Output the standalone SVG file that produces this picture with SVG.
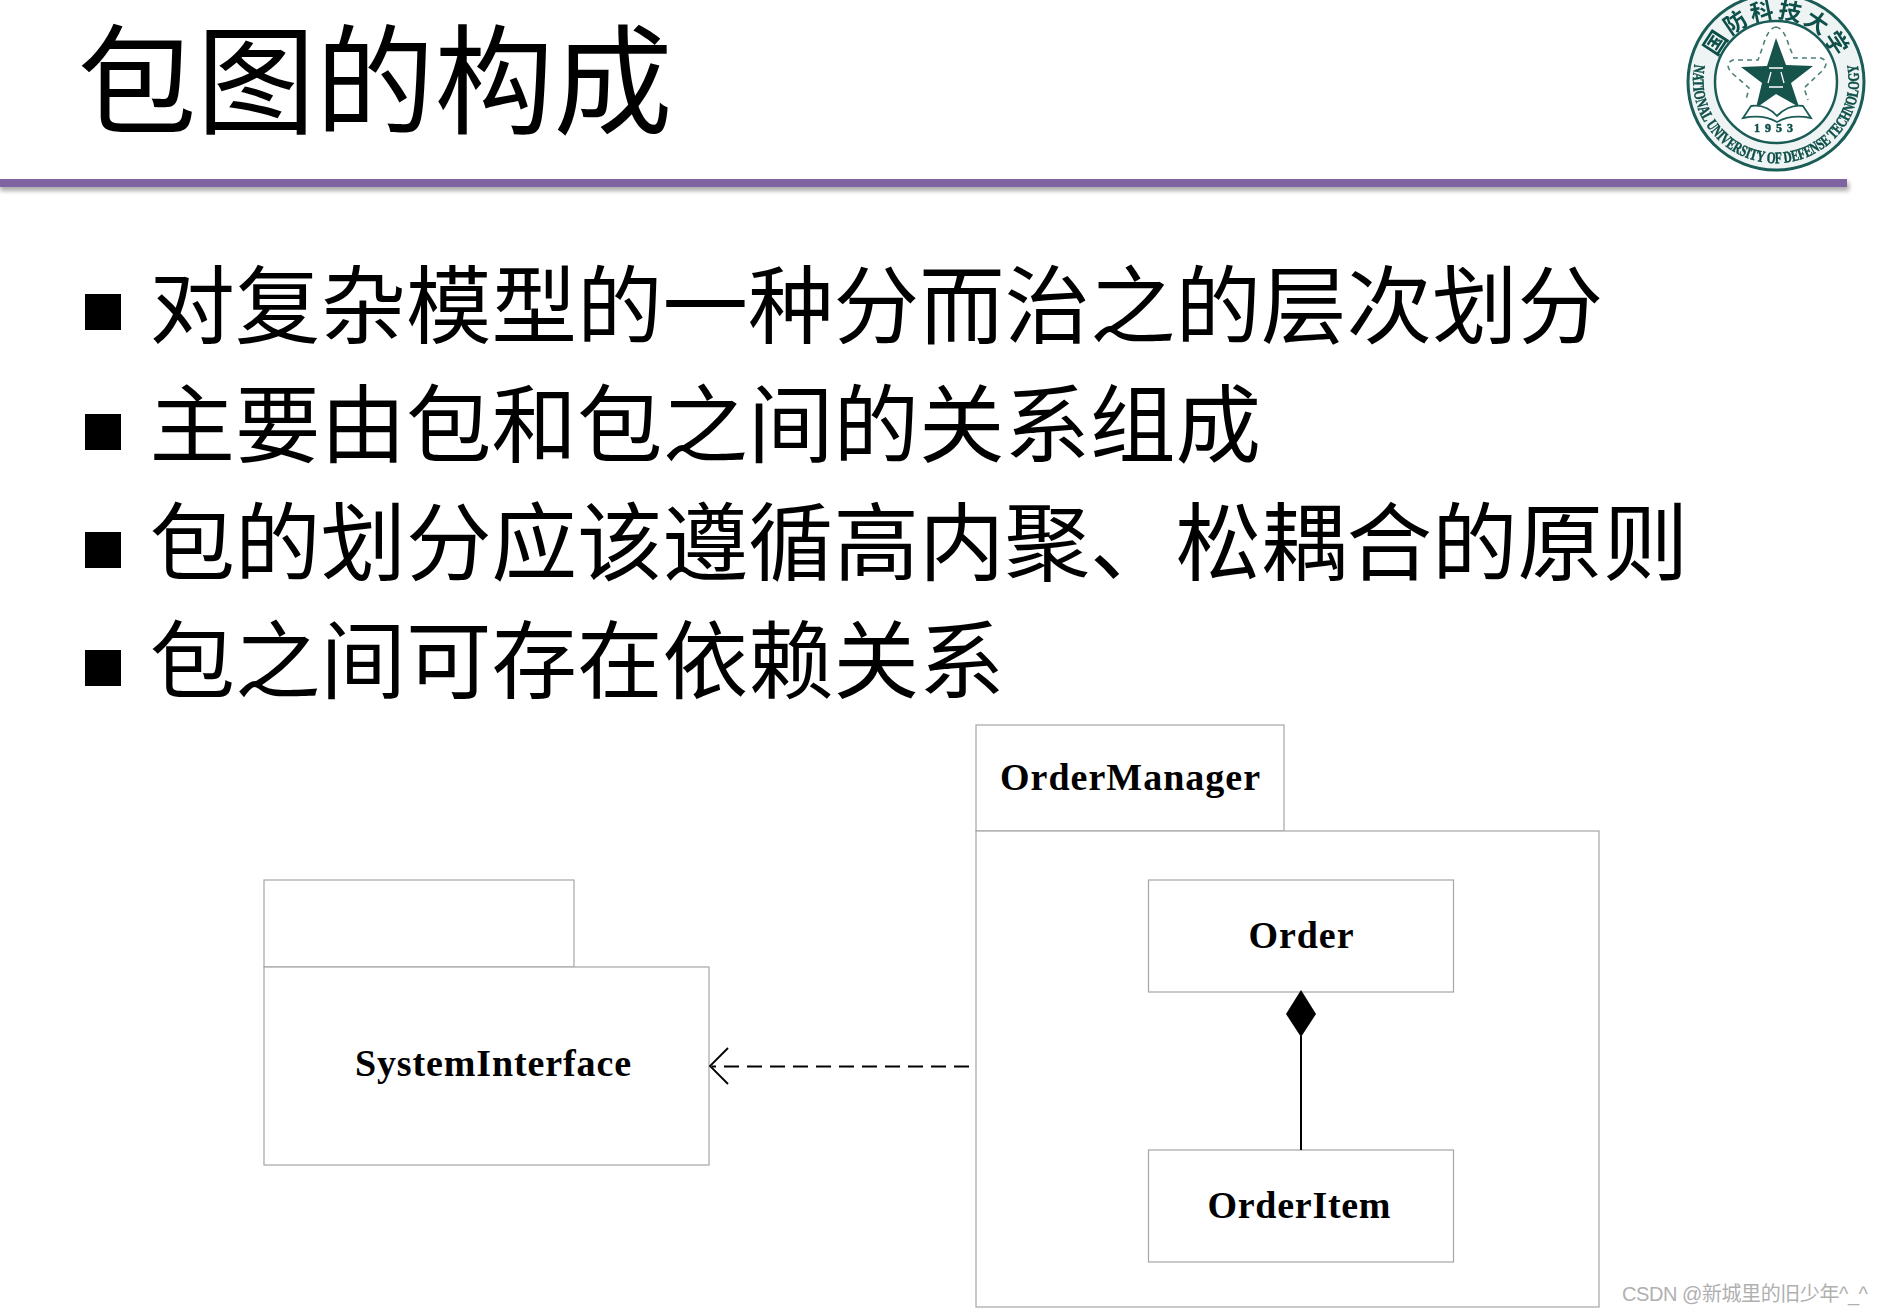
<svg xmlns="http://www.w3.org/2000/svg" width="1882" height="1314" viewBox="0 0 1882 1314">
<style>
.cjk{font-family:"Noto Sans CJK SC","Noto Sans",sans-serif;fill:#000}
.t{font-size:119px}
.b{font-size:85.5px}
.box{fill:#fff;stroke:#a6a6a6;stroke-width:1.2}
.lbl{font-family:"Liberation Serif",serif;font-weight:bold;font-size:38px;fill:#000}
.seal{font-family:"Liberation Serif",serif;font-weight:bold;fill:#0f4f49;stroke:#0f4f49;stroke-width:.5}
.sc{font-family:"Noto Sans CJK SC",sans-serif;font-weight:bold;fill:#0f4f49;font-size:23px}
</style>
<defs>
<filter id="sh" x="-1%" y="-100%" width="102%" height="400%"><feGaussianBlur stdDeviation="2"/></filter>
<filter id="soft" x="-5%" y="-5%" width="110%" height="110%"><feGaussianBlur stdDeviation="0.6"/></filter>
<path id="lowArc" d="M1695 62A83 83 0 1 0 1857 62"/>
<path id="topArc" d="M1716 60A64 64 0 0 1 1836 60"/>
</defs>
<rect width="1882" height="1314" fill="#fff"/>
<text class="cjk t" x="77.500" y="125">包图的构成</text>
<g id="rule"><rect x="0" y="182" width="1849" height="9" fill="#777" opacity=".6" filter="url(#sh)"/><rect x="0" y="179" width="1847" height="8" fill="#8064a2"/></g>
<g id="logo" filter="url(#soft)">
<circle cx="1776" cy="82" r="88" fill="#eef4f3" stroke="#1a5c56" stroke-width="3"/>
<circle cx="1776" cy="82" r="61" fill="#fff" stroke="#1a5c56" stroke-width="2.500"/>
<polygon points="1776,38 1786,65 1813,66 1791,83 1799,107 1776,94 1756,108 1762,83 1741,67 1767,66" fill="#14524c"/>
<path d="M1769 68H1783M1771 72L1768 83M1781 72L1784 83M1769 87H1783" stroke="#fff" stroke-width="1.300" fill="none"/>
<path d="M1776 27Q1784 28 1789 46L1794 58H1821Q1831 62 1821 72L1804 88L1808 100M1776 27Q1768 28 1763 46L1758 60H1733Q1723 64 1733 74L1749 88L1746 100" fill="none" stroke="#4d7f7a" stroke-width="1.600" stroke-dasharray="5 4"/>
<path d="M1743 118L1751 106Q1766 104 1777 116Q1789 104 1803 106L1811 118Q1791 114 1777 122Q1763 114 1743 118Z" fill="#fff" stroke="#1a5c56" stroke-width="1.800"/>
<text class="seal" font-size="12" text-anchor="middle" x="1776" y="132" letter-spacing="5">1953</text>
<text class="seal" font-size="16"><textPath href="#lowArc" startOffset="50%" text-anchor="middle" textLength="292" lengthAdjust="spacingAndGlyphs">NATIONAL UNIVERSITY OF DEFENSE TECHNOLOGY</textPath></text>
<text class="sc"><textPath href="#topArc" startOffset="50%" text-anchor="middle" textLength="150" lengthAdjust="spacing">国防科技大学</textPath></text>
</g>
<g id="bullets" fill="#000">
<rect x="85" y="294" width="36" height="36"/><rect x="85" y="414" width="36" height="36"/><rect x="85" y="532" width="36" height="36"/><rect x="85" y="650" width="36" height="36"/>
</g>
<text class="cjk b" x="149.500" y="337">对复杂模型的一种分而治之的层次划分</text>
<text class="cjk b" x="149.500" y="456">主要由包和包之间的关系组成</text>
<text class="cjk b" x="149.500" y="574">包的划分应该遵循高内聚、松耦合的原则</text>
<text class="cjk b" x="149.500" y="692">包之间可存在依赖关系</text>
<g id="SystemInterface">
<rect class="box" x="264" y="880" width="310" height="87"/><rect class="box" x="264" y="967" width="445" height="198"/>
<text class="lbl" x="493" y="1076" text-anchor="middle" textLength="276" lengthAdjust="spacing">SystemInterface</text>
</g>
<g id="OrderManager">
<rect class="box" x="976" y="725" width="308" height="106"/><rect class="box" x="976" y="831" width="623" height="476"/>
<text class="lbl" x="1130" y="790" text-anchor="middle" textLength="260" lengthAdjust="spacing">OrderManager</text>
</g>
<g id="Order"><rect class="box" x="1148.500" y="880" width="305" height="112"/>
<text class="lbl" x="1301" y="948" text-anchor="middle" textLength="105" lengthAdjust="spacing">Order</text></g>
<g id="OrderItem"><rect class="box" x="1148.500" y="1150" width="305" height="112"/>
<text class="lbl" x="1299" y="1218" text-anchor="middle" textLength="183" lengthAdjust="spacing">OrderItem</text></g>
<g id="connectors" fill="none" stroke="#000">
<path d="M969 1066.500H712" stroke-width="2" stroke-dasharray="15 8"/>
<path d="M728 1048L710 1066L728 1084" stroke-width="1.800"/>
<path d="M1301 1036V1150" stroke-width="2"/>
<polygon points="1301,990 1316,1014 1301,1037 1286,1014" fill="#000" stroke="none"/>
</g>
<text x="1622" y="1301" font-family="Liberation Sans,Noto Sans CJK SC,sans-serif" font-size="20" fill="#b0b0b0" textLength="246">CSDN @新城里的旧少年^_^</text>
</svg>
